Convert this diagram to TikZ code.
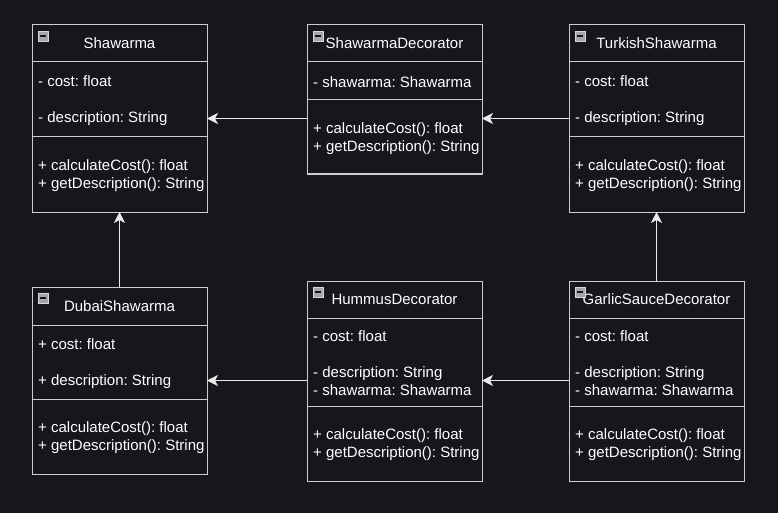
\documentclass[tikz,border=0pt]{standalone}
\usepackage{fontspec}
\setmainfont{Liberation Sans}
\usetikzlibrary{calc, positioning, arrows.meta}
\definecolor{canvas}{RGB}{24,21,29}
\definecolor{edge}{RGB}{205,205,205}
\definecolor{wire}{RGB}{235,235,235}
\definecolor{knob}{RGB}{165,165,170}
\newcommand{\foldicon}[1]{%
  \draw[draw=edge!80, fill=knob, line width=0.8pt] ($(#1.north west)+(6,6)$) rectangle +(10,10);
  \draw[draw=canvas, line width=1.6pt] ($(#1.north west)+(8.2,11)$) -- +(5.6,0);}
\frenchspacing

\begin{document}
\begin{tikzpicture}[x=1pt, y=-1pt,
    classhead/.style={rectangle, draw=edge, fill=canvas, line width=1pt, outer sep=0pt, minimum width=175pt, text=white, font=\fontsize{15}{18}\selectfont},
    classpart/.style={rectangle, draw=edge, fill=canvas, line width=1pt, outer sep=0pt, minimum width=175pt},
    members/.style={anchor=west, inner xsep=6pt, inner ysep=0pt, yshift=-1.5pt, align=left, text=white, font=\fontsize{15}{18}\selectfont},
    inherit/.style={draw=wire, line width=1pt, -{Stealth[length=11pt, width=11pt, inset=3pt]}},
    ]
    \useasboundingbox[fill=canvas] (0,0) rectangle (778,513);

    %Nodes
    \node[classhead, minimum height=37pt] (shawhead) at (119.5,43.5) {Shawarma};
    \node[classpart, minimum height=75pt] (shawattr) [below=0pt of shawhead] {};
    \node[classpart, minimum height=75pt] (shawmeth) [below=0pt of shawattr] {};
    \node[members] (shawattrtext) at (shawattr.west) {- cost: float\\[18pt]- description: String};
    \node[members] (shawmethtext) at (shawmeth.west) {+ calculateCost(): float\\+ getDescription(): String};

    \node[classhead, minimum height=37pt] (decohead) at (394.5,43.5) {ShawarmaDecorator};
    \node[classpart, minimum height=38pt] (decoattr) [below=0pt of decohead] {};
    \node[classpart, minimum height=74pt] (decometh) [below=0pt of decoattr] {};
    \node[members] (decoattrtext) at (decoattr.west) {- shawarma: Shawarma};
    \node[members] (decomethtext) at (decometh.west) {+ calculateCost(): float\\+ getDescription(): String};

    \node[classhead, minimum height=37pt] (turkhead) at (656.5,43.5) {TurkishShawarma};
    \node[classpart, minimum height=75pt] (turkattr) [below=0pt of turkhead] {};
    \node[classpart, minimum height=75pt] (turkmeth) [below=0pt of turkattr] {};
    \node[members] (turkattrtext) at (turkattr.west) {- cost: float\\[18pt]- description: String};
    \node[members] (turkmethtext) at (turkmeth.west) {+ calculateCost(): float\\+ getDescription(): String};

    \node[classhead, minimum height=38pt] (dubaihead) at (119.5,306) {DubaiShawarma};
    \node[classpart, minimum height=74pt] (dubaiattr) [below=0pt of dubaihead] {};
    \node[classpart, minimum height=75pt] (dubaimeth) [below=0pt of dubaiattr] {};
    \node[members] (dubaiattrtext) at (dubaiattr.west) {+ cost: float\\[18pt]+ description: String};
    \node[members] (dubaimethtext) at (dubaimeth.west) {+ calculateCost(): float\\+ getDescription(): String};

    \node[classhead, minimum height=37pt] (hummushead) at (394.5,299.5) {HummusDecorator};
    \node[classpart, minimum height=88pt] (hummusattr) [below=0pt of hummushead] {};
    \node[classpart, minimum height=75pt] (hummusmeth) [below=0pt of hummusattr] {};
    \node[members] (hummusattrtext) at (hummusattr.west) {- cost: float\\[18pt]- description: String\\- shawarma: Shawarma};
    \node[members] (hummusmethtext) at (hummusmeth.west) {+ calculateCost(): float\\+ getDescription(): String};

    \node[classhead, minimum height=37pt] (garlichead) at (656.5,299.5) {GarlicSauceDecorator};
    \node[classpart, minimum height=88pt] (garlicattr) [below=0pt of garlichead] {};
    \node[classpart, minimum height=75pt] (garlicmeth) [below=0pt of garlicattr] {};
    \node[members] (garlicattrtext) at (garlicattr.west) {- cost: float\\[18pt]- description: String\\- shawarma: Shawarma};
    \node[members] (garlicmethtext) at (garlicmeth.west) {+ calculateCost(): float\\+ getDescription(): String};

    %Icons
    \foldicon{shawhead}
    \foldicon{decohead}
    \foldicon{turkhead}
    \foldicon{dubaihead}
    \foldicon{hummushead}
    \foldicon{garlichead}

    %Lines
    \coordinate (shawarma) at ($(shawhead.north)!0.5!(shawmeth.south)$);
    \coordinate (turkish) at ($(turkhead.north)!0.5!(turkmeth.south)$);
    \coordinate (dubai) at ($(dubaihead.north)!0.5!(dubaimeth.south)$);
    \draw[inherit] (decohead.west |- shawarma) -- (shawhead.east |- shawarma);
    \draw[inherit] (turkhead.west |- turkish) -- (decohead.east |- turkish);
    \draw[inherit] (dubaihead.north) -- (shawmeth.south);
    \draw[inherit] (hummushead.west |- dubai) -- (dubaihead.east |- dubai);
    \draw[inherit] (garlichead.west |- dubai) -- (hummushead.east |- dubai);
    \draw[inherit] (garlichead.north) -- (turkmeth.south);
  \end{tikzpicture}
\end{document}
